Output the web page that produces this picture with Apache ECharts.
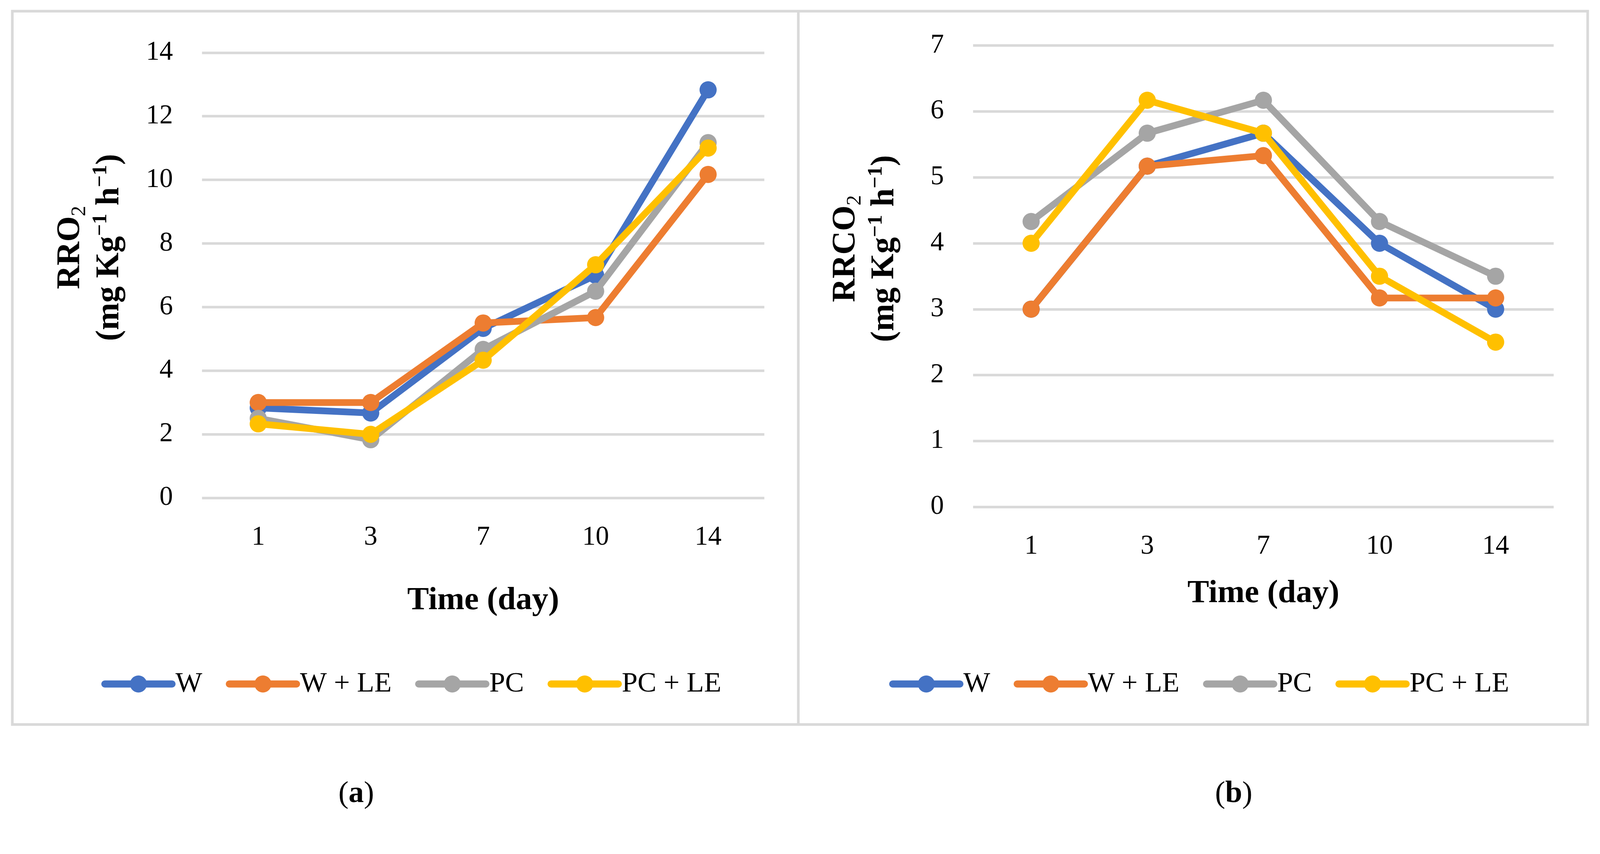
<!DOCTYPE html>
<html><head><meta charset="utf-8">
<script src="https://cdn.jsdelivr.net/npm/echarts/dist/echarts.min.js"></script>
<style>html,body{margin:0;padding:0;background:#fff;overflow:hidden}#c{position:absolute;left:0;top:0}</style>
</head><body><div id="c"></div>
<script>
const days = ['1', '3', '7', '10', '14'];
const seriesNames = ['W', 'W + LE', 'PC', 'PC + LE'];
const o2_W    = [2.83, 2.67, 5.33, 7.0, 12.83];
const o2_WLE  = [3.0, 3.0, 5.5, 5.67, 10.17];
const o2_PC   = [2.5, 1.83, 4.67, 6.5, 11.17];
const o2_PCLE = [2.33, 2.0, 4.33, 7.33, 11.0];
const co2_W    = [3.0, 5.17, 5.67, 4.0, 3.0];
const co2_WLE  = [3.0, 5.17, 5.33, 3.17, 3.17];
const co2_PC   = [4.33, 5.67, 6.17, 4.33, 3.5];
const co2_PCLE = [4.0, 6.17, 5.67, 3.5, 2.5];
const colors = ['#4472C4', '#ED7D31', '#A5A5A5', '#FFC000'];

const FONT = 'Liberation Serif';
const W0 = 4285, H0 = 2187;
const vw = window.innerWidth || W0, vh = window.innerHeight || H0;
const s = Math.min(vw / W0, vh / H0);
const p = v => v * s;
const el = document.getElementById('c');
el.style.width = vw + 'px';
el.style.height = vh + 'px';
const chart = echarts.init(el, null, {renderer: 'canvas'});

function mkSeries(arrs, idx) {
  return arrs.map((d, i) => ({
    name: seriesNames[i], type: 'line', xAxisIndex: idx, yAxisIndex: idx,
    data: d, symbol: 'circle', symbolSize: p(46), showSymbol: true,
    lineStyle: {width: p(18), color: colors[i], cap: 'round', join: 'round'},
    itemStyle: {color: colors[i], borderWidth: 0},
    z: 2 + i, animation: false
  }));
}

const axisLabelStyle = {fontFamily: FONT, fontSize: p(72), color: '#000'};
function xAx(idx, gap) {
  return {
    type: 'category', gridIndex: idx, data: days, boundaryGap: true,
    axisLine: {show: false}, axisTick: {show: false},
    axisLabel: Object.assign({margin: p(70)}, axisLabelStyle),
    name: 'Time (day)', nameLocation: 'middle', nameGap: p(gap),
    nameTextStyle: {fontFamily: FONT, fontSize: p(87), fontWeight: 'bold', color: '#000', verticalAlign: 'middle'}
  };
}
function yAx(idx, max, interval) {
  return {
    type: 'value', gridIndex: idx, min: 0, max: max, interval: interval,
    axisLine: {show: false}, axisTick: {show: false},
    axisLabel: Object.assign({margin: p(78)}, axisLabelStyle),
    splitLine: {show: true, lineStyle: {color: '#D9D9D9', width: p(7)}}
  };
}
function legend(left) {
  return {
    left: p(left), top: p(1789), orient: 'horizontal',
    data: seriesNames, itemWidth: p(180), itemHeight: p(57), itemGap: p(63),
    textStyle: {fontFamily: FONT, fontSize: p(76), color: '#000', padding: [0, 0, 0, p(4)]},
    lineStyle: {width: p(19)}, itemStyle: {borderWidth: 0},
    selectedMode: false
  };
}
const titleRich = {
  b: {fontFamily: FONT, fontSize: p(88), fontWeight: 'bold', lineHeight: p(104), fill: '#000'},
  sub: {fontFamily: FONT, fontSize: p(56), fontWeight: 'normal', lineHeight: p(104), verticalAlign: 'bottom', fill: '#000'},
  sup: {fontFamily: FONT, fontSize: p(56), fontWeight: 'bold', lineHeight: p(104), verticalAlign: 'top', fill: '#000'}
};
function yTitle(x, y, mid) {
  return {
    type: 'text', x: p(x), y: p(y), rotation: Math.PI / 2, z: 10,
    style: {
      text: '{b|RR' + mid + '}{sub|2}\n{b|(mg Kg}{sup|−1}{b| h}{sup|−1}{b|)}',
      rich: titleRich, align: 'center', verticalAlign: 'middle', fill: '#000'
    }
  };
}
function caption(x, letter) {
  return {
    type: 'text', x: p(x), y: p(2128), z: 10,
    style: {
      text: '{r|(}{b|' + letter + '}{r|)}',
      rich: {
        r: {fontFamily: FONT, fontSize: p(82), fill: '#000'},
        b: {fontFamily: FONT, fontSize: p(82), fontWeight: 'bold', fill: '#000'}
      },
      align: 'center', verticalAlign: 'middle'
    }
  };
}

const option = {
  backgroundColor: '#fff',
  animation: false,
  color: colors,
  grid: [
    {left: p(541), top: p(141), width: p(1506), height: p(1193)},
    {left: p(2606), top: p(122), width: p(1555), height: p(1236)}
  ],
  xAxis: [xAx(0, 276), xAx(1, 233)],
  yAxis: [yAx(0, 14, 2), yAx(1, 7, 1)],
  legend: [legend(266), legend(2376)],
  series: mkSeries([o2_W, o2_WLE, o2_PC, o2_PCLE], 0).concat(mkSeries([co2_W, co2_WLE, co2_PC, co2_PCLE], 1)),
  graphic: [
    {type: 'rect', shape: {x: p(33), y: p(30), width: p(4219), height: p(1911)}, style: {fill: 'none', stroke: '#D9D9D9', lineWidth: p(7)}, z: 0},
    {type: 'line', shape: {x1: p(2138), y1: p(30), x2: p(2138), y2: p(1941)}, style: {stroke: '#D9D9D9', lineWidth: p(7)}, z: 0},
    yTitle(242, 663, 'O'),
    yTitle(2318, 666, 'CO'),
    caption(954, 'a'),
    caption(3304, 'b')
  ]
};
chart.setOption(option);
</script></body></html>
